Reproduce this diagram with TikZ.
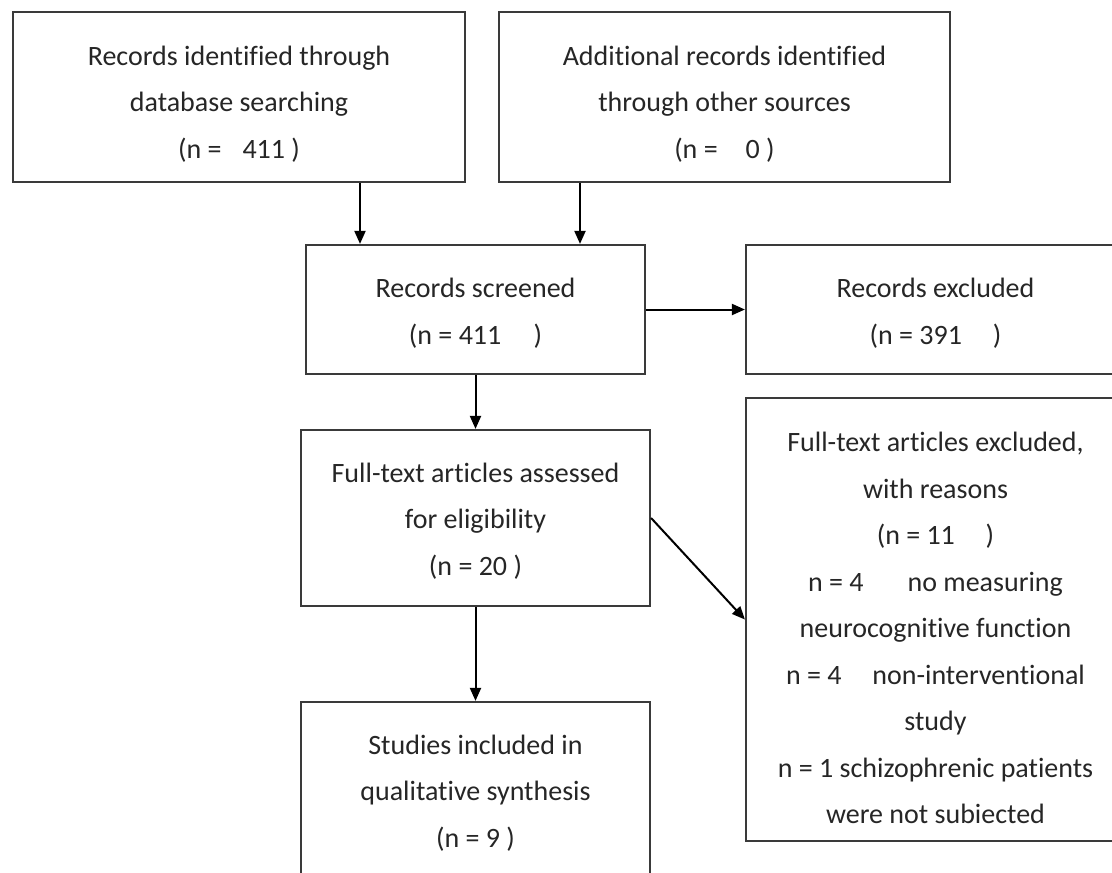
\documentclass[tikz,border=0pt]{standalone}
\usepackage{fontspec}
\setmainfont{Carlito}[Ligatures={NoCommon,NoContextual}]
\usetikzlibrary{arrows.meta}
\definecolor{boxline}{HTML}{3A3A3A}
\definecolor{txtcol}{HTML}{262626}
\tikzset{
  box/.style={draw=boxline, line width=2.2pt, rectangle, inner sep=0pt},
  txt/.style={align=center, text=txtcol, inner sep=0pt,
    font=\fontsize{28}{46.5}\selectfont},
  arr/.style={draw=black, line width=2pt,
    -{Triangle[length=13pt, width=11pt]}}
}
\newcommand{\gap}[1]{\hspace*{#1}}
\begin{document}
\begin{tikzpicture}[x=1pt, y=-1pt]
\useasboundingbox (0,0) rectangle (1112,873);
\clip (0,0) rectangle (1112,873);
\fill[white] (0,0) rectangle (1112,873);

% boxes
\node[box, minimum width=452pt, minimum height=170pt] (a) at (239,97) {};
\node[box, minimum width=451pt, minimum height=170pt] (b) at (724.5,97) {};
\node[box, minimum width=339pt, minimum height=129pt] (c) at (475.5,309.5) {};
\node[box, minimum width=379pt, minimum height=129pt] (d) at (935.5,309.5) {};
\node[box, minimum width=349pt, minimum height=176pt] (e) at (475.5,518) {};
\node[box, minimum width=379pt, minimum height=443pt] (f) at (935.5,619.5) {};
\node[box, minimum width=349pt, minimum height=188pt] (g) at (475.5,796) {};

% texts
\node[txt] (at) at (239,104) {Records identified through\\database searching\\(n =\gap{0.75em}411 )};
\node[txt] (bt) at (724.5,104) {Additional records identified\\through other sources\\(n =\gap{1em}0 )};
\node[txt] (ct) at (475.5,313) {Records screened\\(n = 411\gap{1.15em})};
\node[txt] (dt) at (935.5,313) {Records excluded\\(n = 391\gap{1.1em})};
\node[txt] (et) at (475.5,521) {Full-text articles assessed\\for eligibility\\(n = 20 )};
\node[txt] (ft) at (935.5,628) {Full-text articles excluded,\\with reasons\\(n = 11\gap{1.1em})\\n = 4\gap{1.57em}no measuring\\neurocognitive function\\n = 4\gap{1.1em}non-interventional\\study\\n = 1 schizophrenic patients\\were not subiected};
\node[txt] (gt) at (475.5,793) {Studies included in\\qualitative synthesis\\(n = 9 )};

% connectors
\draw[arr] ([xshift=121pt]a.south) -- ([xshift=121pt]a.south |- c.north);
\draw[arr] ([xshift=-144.5pt]b.south) -- ([xshift=-144.5pt]b.south |- c.north);
\draw[arr] (c.east) -- (d.west);
\draw[arr] (c.south) -- (e.north);
\draw[arr] (e.east) -- (f.west);
\draw[arr] (e.south) -- (g.north);
\end{tikzpicture}
\end{document}
